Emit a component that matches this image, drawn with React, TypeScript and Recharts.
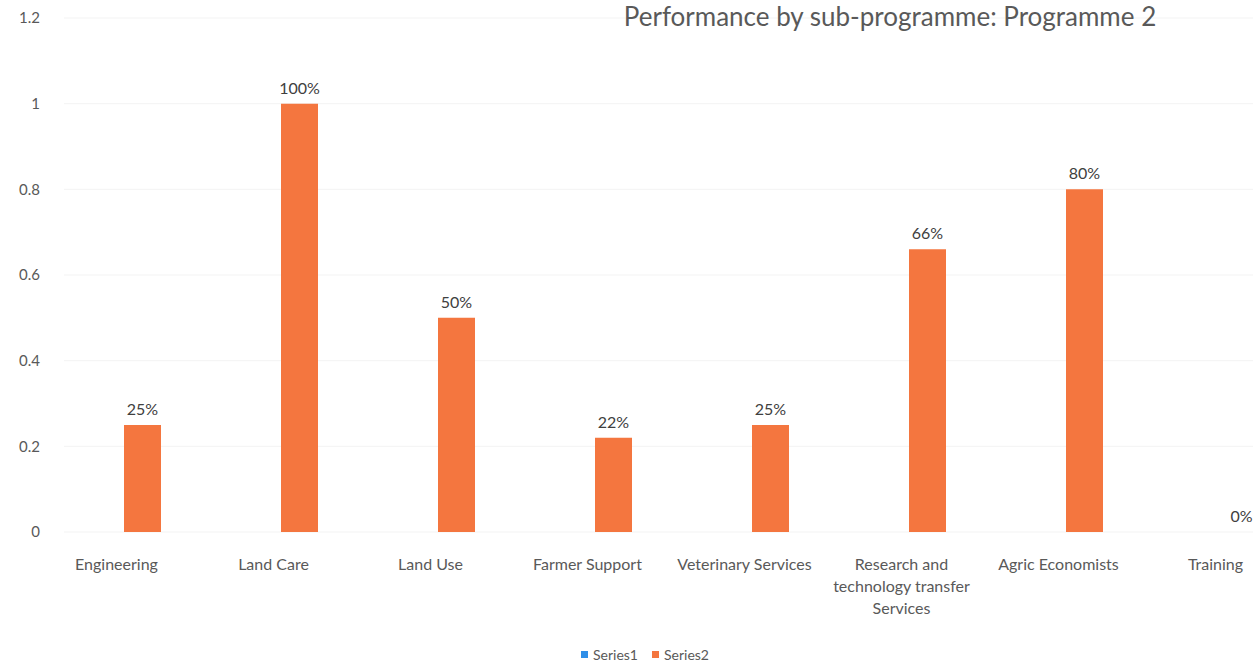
import React from "react";
import {
  ComposedChart,
  Bar,
  Line,
  XAxis,
  YAxis,
  CartesianGrid,
  Legend,
  LabelList,
} from "recharts";

const categories = [
  "Engineering",
  "Land Care",
  "Land Use",
  "Farmer Support",
  "Veterinary Services",
  "Research and technology transfer Services",
  "Agric Economists",
  "Training",
];
const series1: (number | null)[] = [null, null, null, null, null, null, null, null];
const series2 = [0.25, 1.0, 0.5, 0.22, 0.25, 0.66, 0.8, 0];
const yTicks = [0, 0.2, 0.4, 0.6, 0.8, 1, 1.2];

const data = categories.map((name, i) => ({
  name,
  series1: series1[i],
  series2: series2[i],
}));

const FONT = "Lato, 'Open Sans', sans-serif";
const ORANGE = "#F4763F";
const BLUE = "#2F8FE8";

const wrap = (s: string, max = 20) => {
  const lines: string[] = [];
  let cur = "";
  for (const w of s.split(" ")) {
    if (cur && (cur + " " + w).length > max) {
      lines.push(cur);
      cur = w;
    } else cur = cur ? cur + " " + w : w;
  }
  if (cur) lines.push(cur);
  return lines;
};

const CatTick = (props: any) => {
  const { x, y, payload } = props;
  const lines = wrap(payload.value);
  const cx = x - 26;
  return (
    <text x={cx} y={y} textAnchor="middle" fill="#595959" fontSize={16} fontFamily={FONT}>
      {lines.map((l, i) => (
        <tspan key={i} x={cx} dy={i === 0 ? 30 : 22}>
          {l}
        </tspan>
      ))}
    </text>
  );
};

const LegendBox = () => (
  <div
    style={{
      display: "flex",
      justifyContent: "center",
      gap: 14,
      paddingRight: 30,
      fontFamily: FONT,
      fontSize: 14,
      color: "#595959",
    }}
  >
    {[
      { c: BLUE, t: "Series1" },
      { c: ORANGE, t: "Series2" },
    ].map((it) => (
      <span key={it.t} style={{ display: "flex", alignItems: "center", gap: 5 }}>
        <span style={{ width: 7, height: 7, background: it.c, display: "inline-block" }} />
        {it.t}
      </span>
    ))}
  </div>
);

export default function App() {
  return (
    <div
      style={{
        position: "absolute",
        left: 0,
        top: 0,
        width: 1253,
        height: 672,
        overflow: "hidden",
        background: "#fff",
      }}
    >
      <div
        style={{
          position: "absolute",
          left: 540,
          width: 700,
          top: 0,
          textAlign: "center",
          fontFamily: FONT,
          fontSize: 26,
          color: "#595959",
          zIndex: 1,
        }}
      >
        Performance by sub-programme: Programme 2
      </div>
      <ComposedChart
        width={1330}
        height={672}
        data={data}
        margin={{ top: 18, right: 10, left: 0, bottom: 0 }}
      >
        <CartesianGrid vertical={false} stroke="#f3f3f3" />
        <XAxis
          dataKey="name"
          axisLine={false}
          tickLine={false}
          interval={0}
          height={114}
          tick={<CatTick />}
        />
        <YAxis
          domain={[0, 1.2]}
          ticks={yTicks}
          axisLine={false}
          tickLine={false}
          width={64}
          tickMargin={18}
          tick={{ fill: "#595959", fontSize: 15, fontFamily: FONT }}
        />
        <Legend verticalAlign="bottom" height={26} content={<LegendBox />} />
        <Bar dataKey="series2" name="Series2" fill={ORANGE} barSize={37} isAnimationActive={false} />
        <Line
          dataKey="series2"
          stroke="none"
          strokeWidth={0}
          dot={false}
          activeDot={false}
          legendType="none"
          isAnimationActive={false}
        >
          <LabelList
            dataKey="series2"
            position="top"
            offset={10}
            formatter={(v: any) => `${Math.round(Number(v) * 100)}%`}
            style={{ fill: "#404040", fontSize: 16, fontFamily: FONT }}
          />
        </Line>
      </ComposedChart>
    </div>
  );
}
